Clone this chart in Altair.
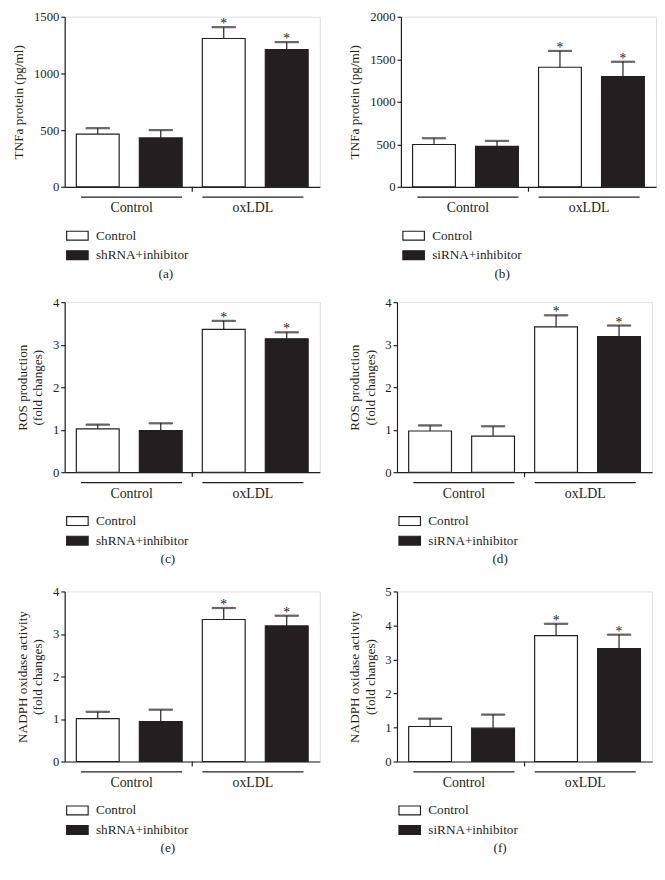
import altair as alt
import pandas as pd

FONT = "Liberation Serif"
INK = "#231f20"
W, H = 261, 174

# ---- shared categories ----
bar_ids = ["ctl_ctl", "ctl_inh", "ox_ctl", "ox_inh"]
bar_groups = ["Control", "Control", "oxLDL", "oxLDL"]
group_names = ["Control", "oxLDL"]
star_flags = ["", "", "*", "*"]

# ---- panel metadata ----
letters = ["(a)", "(b)", "(c)", "(d)", "(e)", "(f)"]
treat_labels = ["shRNA+inhibitor", "siRNA+inhibitor", "shRNA+inhibitor",
                "siRNA+inhibitor", "shRNA+inhibitor", "siRNA+inhibitor"]
y_titles = [
    ["TNFa protein (pg/ml)"],
    ["TNFa protein (pg/ml)"],
    ["ROS production", "(fold changes)"],
    ["ROS production", "(fold changes)"],
    ["NADPH oxidase activity", "(fold changes)"],
    ["NADPH oxidase activity", "(fold changes)"],
]
y_max = [1500, 2000, 4, 4, 4, 5]
y_ticks = [
    [0, 500, 1000, 1500],
    [0, 500, 1000, 1500, 2000],
    [0, 1, 2, 3, 4],
    [0, 1, 2, 3, 4],
    [0, 1, 2, 3, 4],
    [0, 1, 2, 3, 4, 5],
]

# ---- values (mean and upper end of error bar) ----
means_a = [465, 431, 1308, 1210]
upper_a = [517, 500, 1408, 1276]
means_b = [498, 475, 1406, 1295]
upper_b = [571, 540, 1598, 1471]
means_c = [1.02, 0.98, 3.36, 3.14]
upper_c = [1.12, 1.15, 3.56, 3.29]
means_d = [0.97, 0.85, 3.42, 3.19]
upper_d = [1.10, 1.08, 3.69, 3.45]
means_e = [1.01, 0.94, 3.34, 3.19]
upper_e = [1.17, 1.22, 3.61, 3.43]
means_f = [1.03, 0.98, 3.70, 3.32]
upper_f = [1.26, 1.38, 4.05, 3.73]

# fill index per bar: 0 = open (Control), 1 = filled (inhibitor)
shade_a = [0, 1, 0, 1]
shade_b = [0, 1, 0, 1]
shade_c = [0, 1, 0, 1]
shade_d = [0, 0, 0, 1]
shade_e = [0, 1, 0, 1]
shade_f = [0, 1, 0, 1]

all_means = [means_a, means_b, means_c, means_d, means_e, means_f]
all_upper = [upper_a, upper_b, upper_c, upper_d, upper_e, upper_f]
all_shade = [shade_a, shade_b, shade_c, shade_d, shade_e, shade_f]


def panel(i):
    dom = ["Control", treat_labels[i]]
    df = pd.DataFrame({
        "bar": bar_ids,
        "group": bar_groups,
        "mean": all_means[i],
        "upper": all_upper[i],
        "shade": [dom[s] for s in all_shade[i]],
        "star": star_flags,
    })
    gdf = pd.DataFrame({"group": group_names})

    xscale = alt.Scale(paddingInner=0.32, paddingOuter=0.185)
    xax = alt.Axis(labels=False, ticks=False, title=None,
                   domainColor=INK, domainWidth=1.2)
    xb = alt.X("bar:N", sort=bar_ids, scale=xscale, axis=xax)
    ysc = alt.Scale(domain=[0, y_max[i]], nice=False, zero=True)
    yax = alt.Axis(values=y_ticks[i], title=y_titles[i], format="d", grid=False,
                   titleFont=FONT, titleFontSize=13.5, titleFontWeight="normal",
                   titleColor=INK, labelFont=FONT, labelFontSize=13, labelColor=INK,
                   tickColor=INK, tickSize=4, tickWidth=1.2, domainColor=INK,
                   domainWidth=1.2, titlePadding=8, labelPadding=2)

    bars = alt.Chart(df).mark_bar(stroke=INK, strokeWidth=1.2).encode(
        x=xb,
        y=alt.Y("mean:Q", scale=ysc, axis=yax),
        fill=alt.Fill("shade:N", scale=alt.Scale(domain=dom, range=["white", INK]),
                      legend=alt.Legend(
                          title=None, orient="none", legendX=1, legendY=H + 40,
                          direction="vertical", padding=0,
                          symbolType="M-1,-0.41H1V0.41H-1Z", symbolSize=484,
                          symbolStrokeColor=INK, symbolStrokeWidth=1.2,
                          labelFont=FONT, labelFontSize=13.5, labelColor=INK,
                          labelOffset=7, rowPadding=0, clipHeight=20)),
    )
    err = alt.Chart(df).mark_rule(stroke=INK, strokeWidth=1.2).encode(
        x=xb, y=alt.Y("mean:Q", scale=ysc, axis=yax), y2="upper:Q")
    caps = alt.Chart(df).mark_tick(fill=INK, stroke=INK, size=24, thickness=1.2).encode(
        x=xb, y=alt.Y("upper:Q", scale=ysc, axis=yax))
    stars = alt.Chart(df).mark_text(font=FONT, fontSize=14, fill=INK,
                                    baseline="alphabetic", dy=1).encode(
        x=xb, y=alt.Y("upper:Q", scale=ysc, axis=yax), text="star:N")
    inner = alt.layer(bars, err, caps, stars)

    gx = alt.X("group:N", sort=group_names,
               scale=alt.Scale(paddingInner=0.167, paddingOuter=0.135), axis=None)
    glines = alt.Chart(gdf).mark_bar(fill=INK).encode(
        x=gx, y=alt.value(H + 10), y2=alt.value(H + 11.2))
    glabels = alt.Chart(gdf).mark_text(font=FONT, fontSize=14.2, fill=INK,
                                       baseline="middle").encode(
        x=gx, y=alt.value(H + 22), text="group:N")
    brk = alt.Chart(gdf.head(1)).mark_rule(stroke=INK, strokeWidth=1.2).encode(
        x=alt.value(W / 2), y=alt.value(H), y2=alt.value(H + 5))
    outer_g = alt.layer(glines, glabels, brk)

    return alt.layer(inner, outer_g).resolve_scale(x="independent").properties(
        width=W, height=H,
        title=alt.TitleParams(letters[i], orient="bottom", anchor="middle",
                              frame="bounds", font=FONT, fontSize=13.5,
                              fontWeight="normal", color=INK, offset=2),
    )


rows = [
    alt.hconcat(panel(2 * r), panel(2 * r + 1), spacing=27)
    .resolve_scale(fill="independent").resolve_legend(fill="independent")
    for r in range(3)
]
top_two = (
    alt.vconcat(rows[0], rows[1], spacing=15)
    .resolve_scale(fill="independent").resolve_legend(fill="independent")
)
chart = (
    alt.vconcat(top_two, rows[2], spacing=19)
    .resolve_scale(fill="independent")
    .resolve_legend(fill="independent")
    .properties(padding={"left": 3, "top": -8, "right": 0, "bottom": 4})
    .configure_view(stroke=None, strokeWidth=0)
    .configure_axisY(titleFont=FONT, titleFontSize=13.5, titleFontWeight="normal",
                     titleColor=INK, titleLineHeight=13)
    .configure(background="white")
)

chart.save("out.html", embed_options={"renderer": "svg", "actions": False})
